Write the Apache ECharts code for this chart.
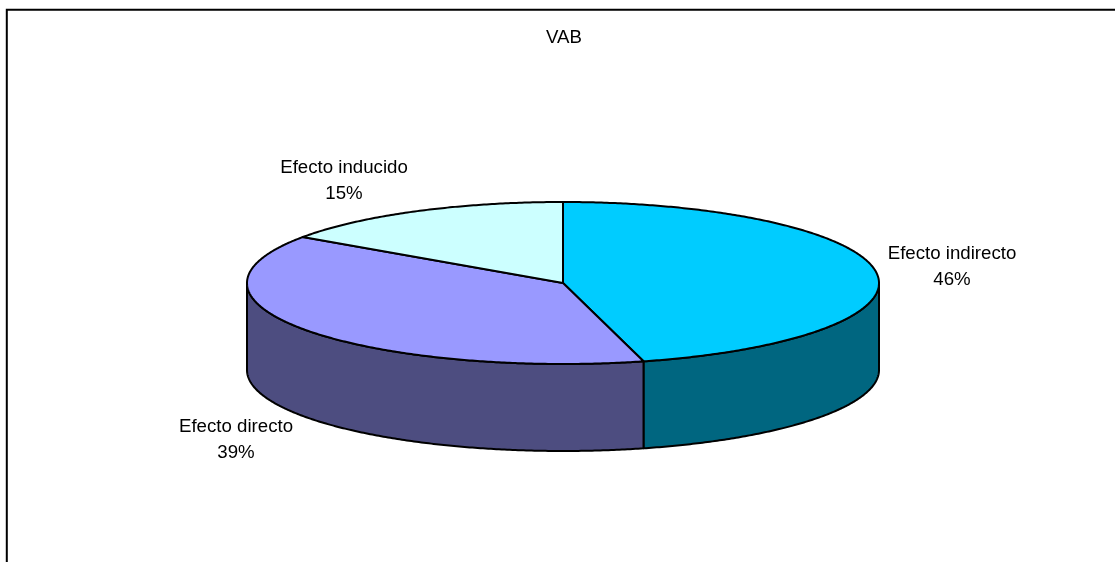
<!DOCTYPE html>
<html>
<head>
<meta charset="utf-8">
<style>html,body{margin:0;padding:0;background:#fff}#c{width:1115px;height:562px}</style>
<script src="https://cdn.jsdelivr.net/npm/echarts@6/dist/echarts.min.js"></script>
</head>
<body>
<div id="c"></div>
<script>
const chartTitle = 'VAB';
const categories = ['Efecto indirecto', 'Efecto directo', 'Efecto inducido'];
const values = [45.9, 38.7, 15.4];

const topColors = ['#00CCFF', '#9999FF', '#CCFFFF'];
const sideColors = ['#006680', '#4D4D80', '#668080'];
const labelCentres = [[952, 267], [236, 440], [344, 181]];
const pie = { cx: 563, cy: 283, rx: 316, ry: 81, depth: 87 };
const FONT = '18.67px "Liberation Sans", Arial, sans-serif';

const total = values.reduce((a, b) => a + b, 0);
const starts = values.map((_, i) => values.slice(0, i).reduce((a, b) => a + b, 0) / total * 360);

function pt(deg, dy) {
  const r = deg * Math.PI / 180;
  return [pie.cx + pie.rx * Math.sin(r), pie.cy - pie.ry * Math.cos(r) + (dy || 0)];
}
function arc(a0, a1, dy) {
  const n = Math.max(2, Math.ceil(Math.abs(a1 - a0) / 0.5));
  const out = [];
  for (let k = 0; k <= n; k++) out.push(pt(a0 + (a1 - a0) * k / n, dy));
  return out;
}
const edge = { stroke: '#000', lineWidth: 2, lineJoin: 'round' };

function renderItem(params, api) {
  const i = params.dataIndex;
  const v = api.value(0);
  const a0 = starts[i], a1 = a0 + v / total * 360;
  const children = [];
  const s0 = Math.max(a0, 90), s1 = Math.min(a1, 270);
  if (s1 > s0) {
    children.push({
      type: 'polygon', z2: 1,
      shape: { points: arc(s0, s1, 0).concat(arc(s1, s0, pie.depth)) },
      style: Object.assign({ fill: sideColors[i] }, edge)
    });
  }
  children.push({
    type: 'polygon', z2: 2,
    shape: { points: [[pie.cx, pie.cy]].concat(arc(a0, a1, 0)) },
    style: Object.assign({ fill: topColors[i] }, edge)
  });
  children.push({
    type: 'text', z2: 3,
    style: {
      x: labelCentres[i][0], y: labelCentres[i][1],
      text: categories[i] + '\n' + Math.round(v / total * 100) + '%',
      font: FONT, fill: '#000', align: 'center', verticalAlign: 'middle', lineHeight: 26
    }
  });
  return { type: 'group', children };
}

const chart = echarts.init(document.getElementById('c'), null, { renderer: 'canvas' });
chart.setOption({
  animation: false,
  backgroundColor: '#fff',
  title: {
    text: chartTitle, left: 559, top: 23, textAlign: 'center',
    textStyle: { fontFamily: '"Liberation Sans", Arial, sans-serif', fontSize: 18.67, fontWeight: 'normal', color: '#000', lineHeight: 20 }
  },
  graphic: [
    { type: 'polyline', z: -1, shape: { points: [[6.8, 562], [6.8, 9.8], [1115, 9.8]] },
      style: { stroke: '#000', lineWidth: 2, fill: null } }
  ],
  series: [{
    type: 'custom',
    coordinateSystem: 'none',
    renderItem,
    data: values.map((v, i) => ({ name: categories[i], value: [v] }))
  }]
});
</script>
</body>
</html>
